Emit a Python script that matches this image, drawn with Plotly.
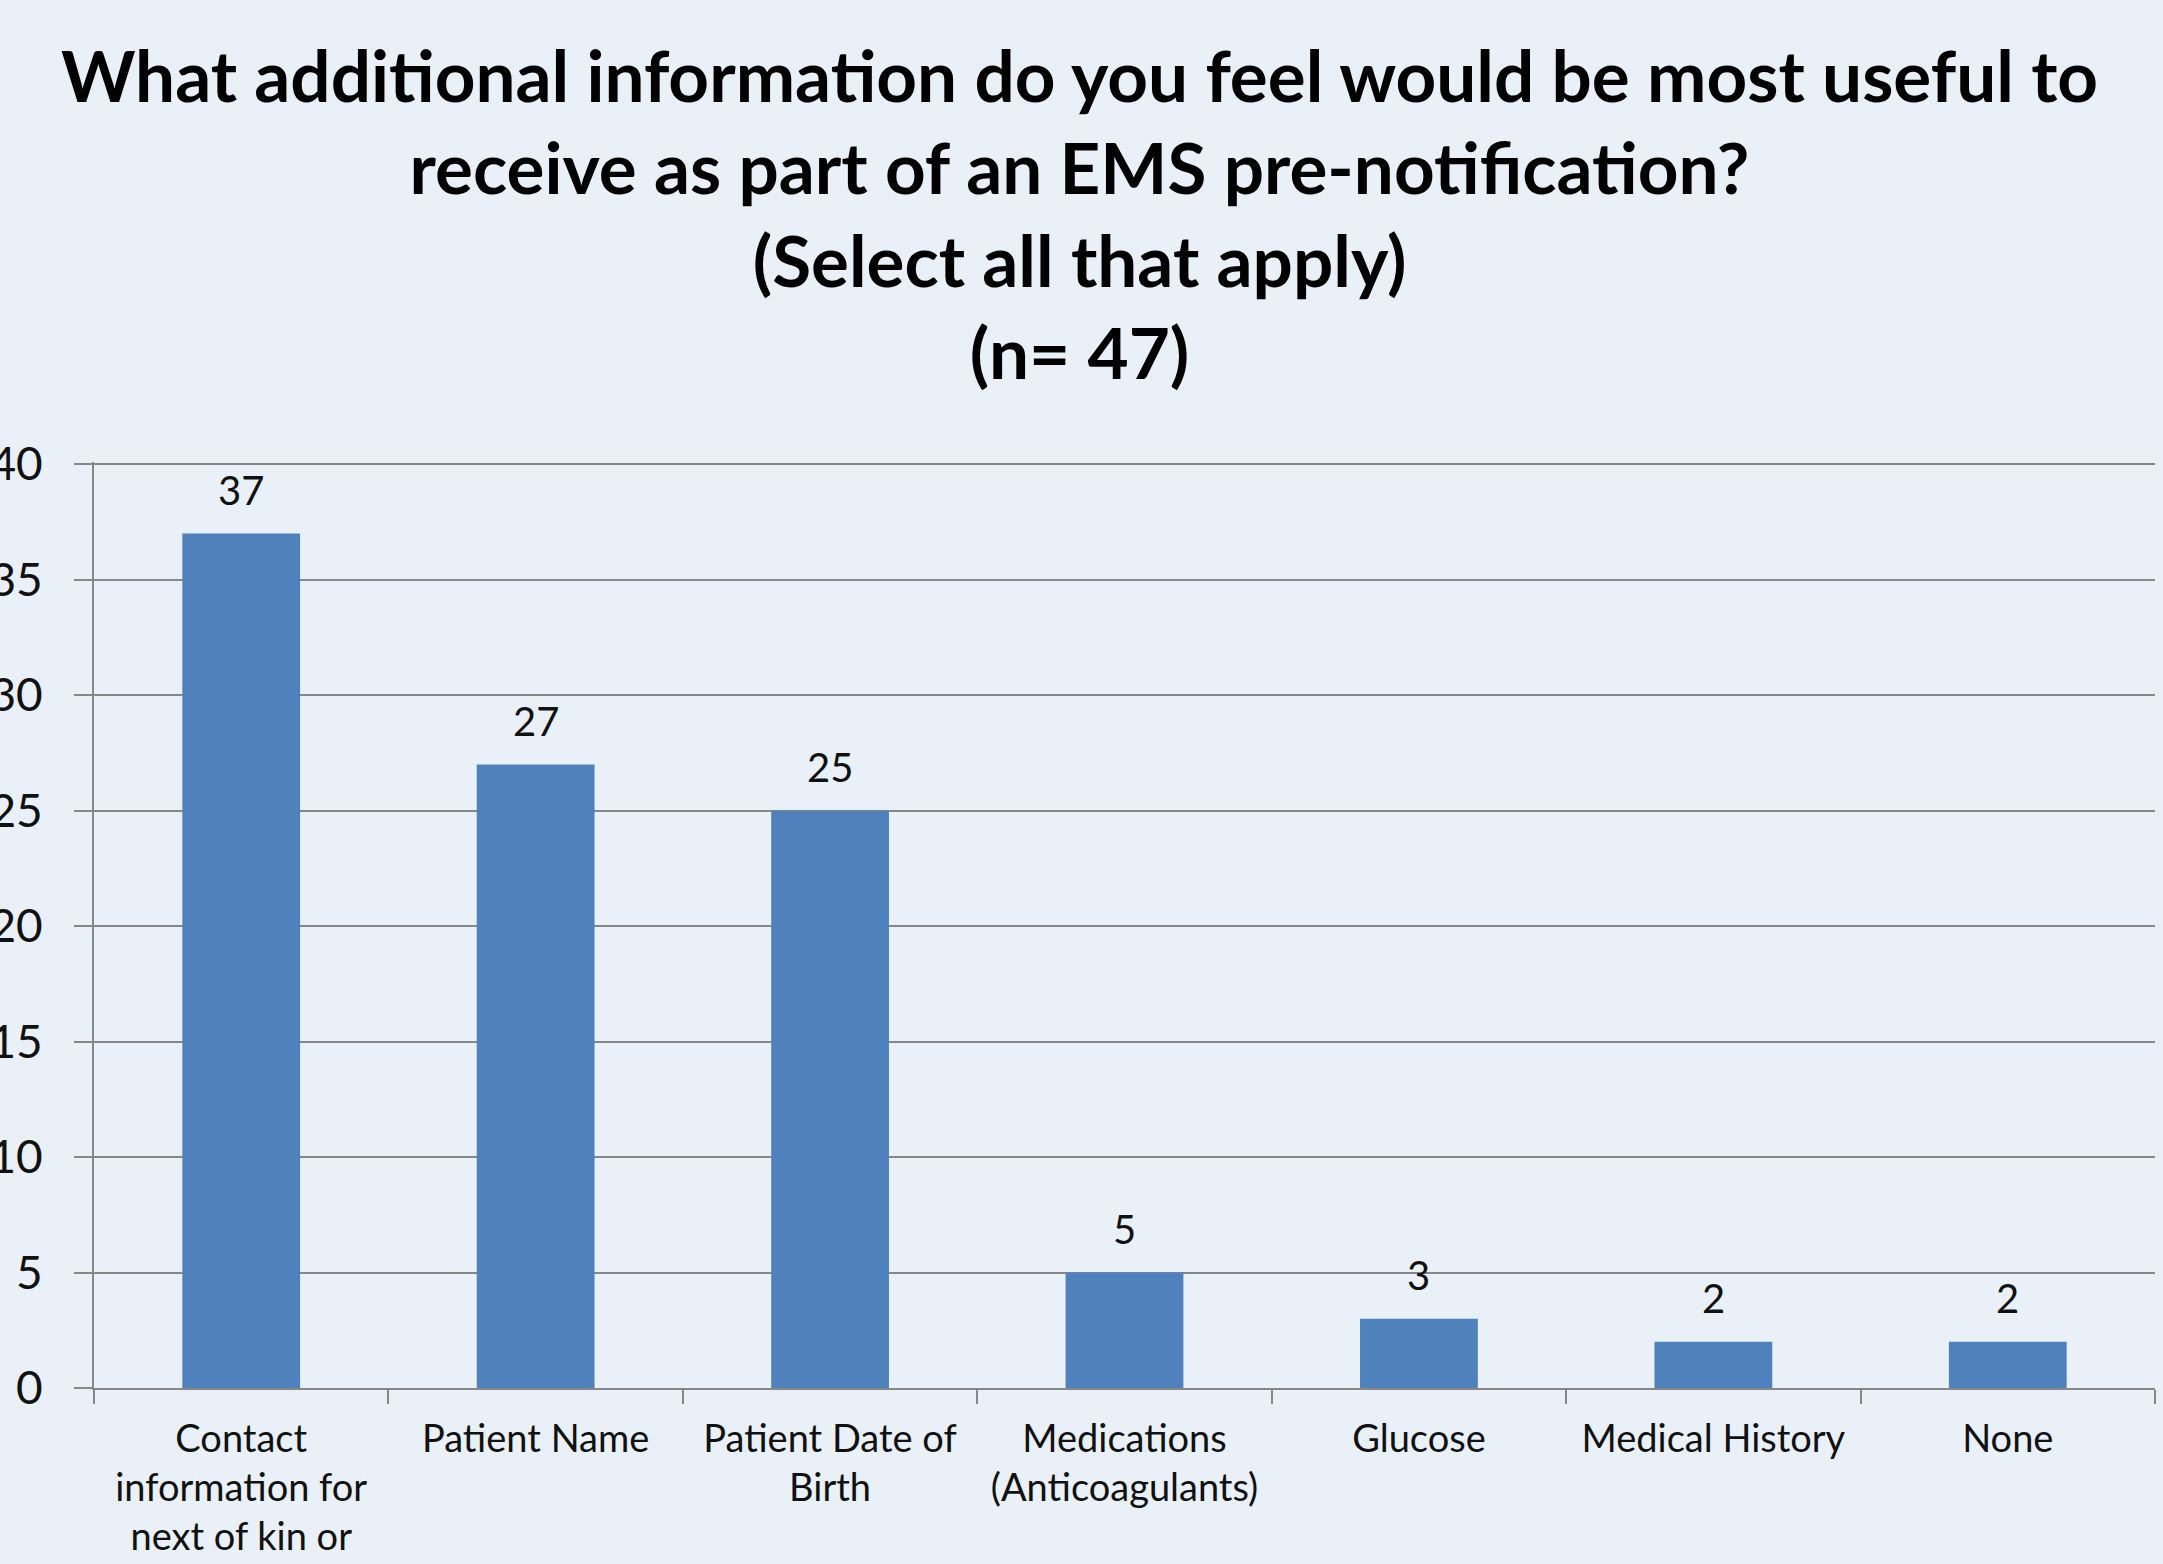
import plotly.graph_objects as go

categories = [
    "Contact<br>information for<br>next of kin or",
    "Patient Name",
    "Patient Date of<br>Birth",
    "Medications<br>(Anticoagulants)",
    "Glucose",
    "Medical History",
    "None",
]
values = [37, 27, 25, 5, 3, 2, 2]
y_ticks = [0, 5, 10, 15, 20, 25, 30, 35, 40]

title_text = ("What additional information do you feel would be most useful to<br>"
              "receive as part of an EMS pre-notification?<br>"
              "(Select all that apply)<br>"
              "(n= 47)")

FONT = "Lato, 'Open Sans', sans-serif"
GRID = "#878787"
BG = "#E9F0F8"

W, H = 2163, 1564
L, R, T, B = 94, 8, 462, 176
plot_h = H - T - B
plot_w = W - L - R

fig = go.Figure()
fig.add_trace(go.Bar(
    x=categories,
    y=values,
    marker=dict(color="#4F81BD", line=dict(width=0)),
    width=0.4,
    hoverinfo="x+y",
))

for c, v in zip(categories, values):
    fig.add_annotation(
        x=c, y=v, xref="x", yref="y",
        text=str(v), showarrow=False,
        yanchor="bottom", yshift=18,
        font=dict(family=FONT, size=40, color="#111111"),
    )

fig.add_annotation(
    xref="paper", yref="paper",
    x=(1079 - L) / plot_w, y=1 + (T - 30) / plot_h,
    xanchor="center", yanchor="top",
    text="<b>" + title_text + "</b>",
    showarrow=False, align="center",
    font=dict(family=FONT, size=71, color="#000000"),
)

fig.update_layout(
    width=W,
    height=H,
    margin=dict(l=L, r=R, t=T, b=B, autoexpand=False),
    paper_bgcolor=BG,
    plot_bgcolor="rgba(0,0,0,0)",
    showlegend=False,
    xaxis=dict(
        showline=True, linecolor=GRID, linewidth=2,
        ticks="outside", ticklen=14, tickcolor=GRID, tickwidth=2,
        tickson="boundaries",
        tickfont=dict(family=FONT, size=38, color="#111111"),
        ticklabelstandoff=16,
        showgrid=False,
        fixedrange=True,
    ),
    yaxis=dict(
        range=[0, 40.1],
        tickvals=y_ticks,
        showline=True, linecolor=GRID, linewidth=2,
        ticks="outside", ticklen=18, tickcolor=GRID, tickwidth=2,
        showgrid=True, gridcolor=GRID, gridwidth=2,
        zeroline=False,
        tickfont=dict(family=FONT, size=46, color="#111111"),
        ticklabelstandoff=22,
        fixedrange=True,
    ),
    bargap=0.6,
)

fig.write_html(
    "out.html",
    config={"displayModeBar": False},
    post_script=("document.body.style.margin='0';"
                 "document.body.style.background='" + BG + "';"
                 "document.body.style.overflow='hidden';"),
)
